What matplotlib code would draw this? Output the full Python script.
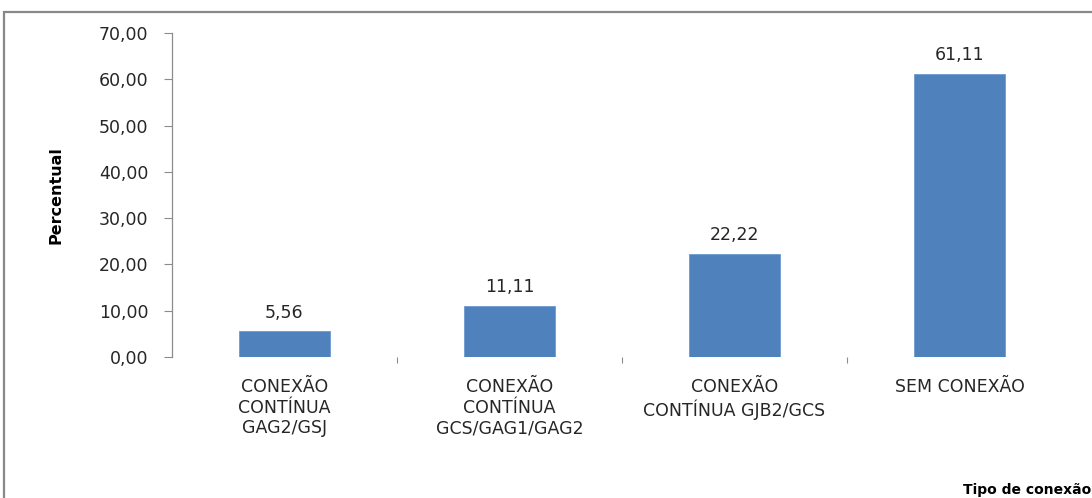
import matplotlib.pyplot as plt
import matplotlib.patches as mpatches
from matplotlib.ticker import FixedLocator

# data
categories = [
    "CONEXÃO\nCONTÍNUA\nGAG2/GSJ",
    "CONEXÃO\nCONTÍNUA\nGCS/GAG1/GAG2",
    "CONEXÃO\nCONTÍNUA GJB2/GCS",
    "SEM CONEXÃO",
]
values = [5.56, 11.11, 22.22, 61.11]
value_labels = ["5,56", "11,11", "22,22", "61,11"]
y_ticks = [0, 10, 20, 30, 40, 50, 60, 70]
y_tick_labels = ["0,00", "10,00", "20,00", "30,00", "40,00", "50,00", "60,00", "70,00"]

BAR_COLOR = "#4F81BD"
TEXT_COLOR = "#262626"
AXIS_COLOR = "#8C8C8C"

fig = plt.figure(figsize=(10.92, 4.98), dpi=100)

# outer chart frame (runs off the right and bottom edges)
frame = mpatches.Rectangle((4 / 1092, -0.2), 1.2, 0.2 + (1 - 12.5 / 498),
                           transform=fig.transFigure, fill=False,
                           edgecolor="#888888", linewidth=1.6)
fig.add_artist(frame)

ax = fig.add_axes([172 / 1092, 1 - 357 / 498, 900 / 1092, 324 / 498])

x = list(range(len(categories)))
ax.bar(x, values, width=0.405, color=BAR_COLOR, edgecolor="#6F9AD0", linewidth=0.6)

for xi, v, lab in zip(x, values, value_labels):
    ax.annotate(lab, (xi, v), xytext=(0, 7), textcoords="offset points",
                ha="center", va="bottom", fontsize=12.5, color=TEXT_COLOR)

ax.set_xlim(-0.5, len(categories) - 0.5)
ax.set_ylim(0, 70)

ax.set_yticks(y_ticks)
ax.set_yticklabels(y_tick_labels, fontsize=12.5, color=TEXT_COLOR)
ax.tick_params(axis="y", length=6, width=0.8, color=AXIS_COLOR, pad=11)

ax.set_xticks(x)
ax.set_xticklabels(categories, fontsize=12.5, color=TEXT_COLOR, linespacing=1.2)
ax.tick_params(axis="x", which="major", length=0, pad=15)
ax.xaxis.set_minor_locator(FixedLocator([0.5, 1.5, 2.5]))
ax.tick_params(axis="x", which="minor", length=4, width=0.8, color=AXIS_COLOR)

for side in ["top", "right", "bottom"]:
    ax.spines[side].set_visible(False)
ax.spines["left"].set_color(AXIS_COLOR)
ax.spines["left"].set_linewidth(0.9)

ax.set_ylabel("Percentual", fontsize=11.5, fontweight="bold",
              family=["Liberation Sans Narrow", "DejaVu Sans"], color="black")
ax.yaxis.set_label_coords((64 - 172) / 900, 0.5)

fig.text(1091 / 1092, 1 - 490 / 498, "Tipo de conexão", fontsize=10,
         fontweight="bold", ha="right", va="center", color="black")

fig.savefig("out.png", dpi=100)
